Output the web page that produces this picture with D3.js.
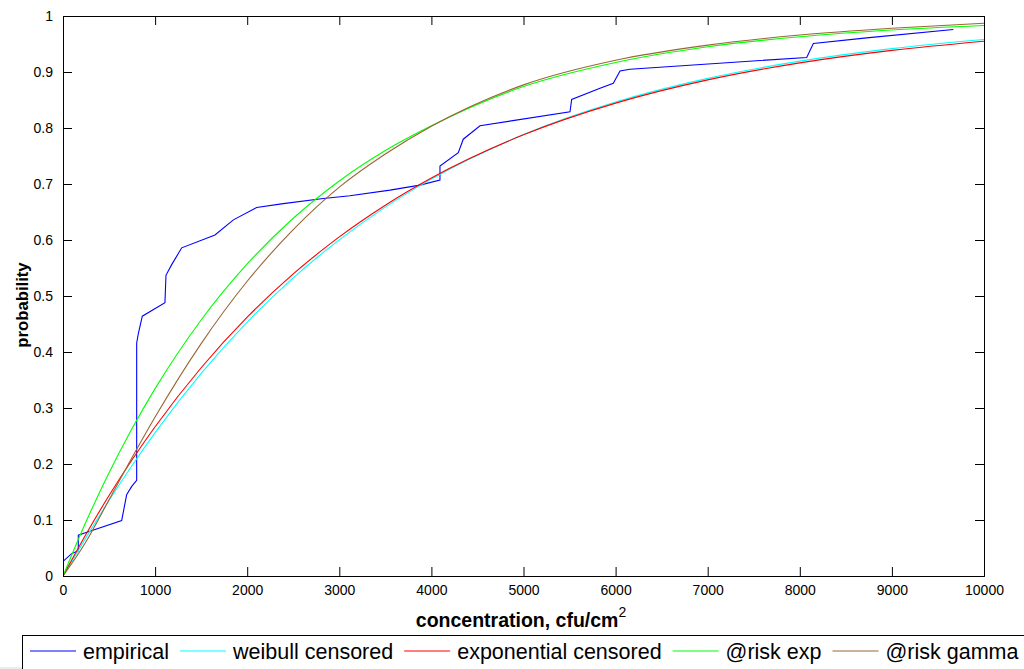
<!DOCTYPE html>
<html lang="en">
<head>
    <meta charset="UTF-8">
    <title>probability vs concentration</title>
    <script src="https://d3js.org/d3.v7.min.js"></script>
    <style>
        body { margin: 0; background: #fff; }
        svg { display: block; font-family: "Liberation Sans", Arial, sans-serif; }
        .tick text { font-size: 14px; fill: #000; }
    </style>
</head>
<body>
    <script>
        // fitted curves at these concentrations
        const curveX = [0, 250, 500, 750, 1000, 1500, 2000, 2500, 3000, 3500, 4000, 5000, 6000, 7000, 8000, 9000, 10000];
        const weibullCensored = [0, 0.0685, 0.1349, 0.1974, 0.2560, 0.3618, 0.4534, 0.5324, 0.6003, 0.6587, 0.7087, 0.7882, 0.8463, 0.8886, 0.9194, 0.9418, 0.9580];
        const exponentialCensored = [0, 0.0746, 0.1436, 0.2075, 0.2666, 0.3719, 0.4622, 0.5394, 0.6056, 0.6622, 0.7107, 0.7878, 0.8444, 0.8859, 0.9163, 0.9386, 0.9550];
        const riskExp = [0, 0.0968, 0.1843, 0.2633, 0.3346, 0.4572, 0.5572, 0.6388, 0.7054, 0.7597, 0.8039, 0.8740, 0.9170, 0.9450, 0.9630, 0.9750, 0.9830];
        const riskGamma = [0, 0.0612, 0.1361, 0.2115, 0.2838, 0.4150, 0.5263, 0.6184, 0.6943, 0.7535, 0.8030, 0.8770, 0.9210, 0.9480, 0.9660, 0.9780, 0.9870];

        // empirical cdf
        const empX = [0, 94, 166, 166, 275, 637, 691, 746, 800, 800, 818, 861, 1107, 1118, 1180, 1289, 1650, 1850, 2103, 2392, 2826, 3116, 3550, 3876, 4093, 4093, 4292, 4346, 4528, 5505, 5523, 5831, 5975, 6048, 6156, 8075, 8147, 8726, 9667];
        const empP = [0.026, 0.040, 0.045, 0.073, 0.079, 0.099, 0.145, 0.160, 0.171, 0.416, 0.433, 0.464, 0.488, 0.537, 0.556, 0.586, 0.609, 0.636, 0.658, 0.665, 0.674, 0.679, 0.689, 0.698, 0.707, 0.732, 0.756, 0.780, 0.804, 0.829, 0.851, 0.871, 0.880, 0.902, 0.905, 0.926, 0.951, 0.961, 0.976];

        const xTicks = [0, 1000, 2000, 3000, 4000, 5000, 6000, 7000, 8000, 9000, 10000];
        const yTicks = [0, 0.1, 0.2, 0.3, 0.4, 0.5, 0.6, 0.7, 0.8, 0.9, 1];
        const seriesNames = ["empirical", "weibull censored", "exponential censored", "@risk exp", "@risk gamma"];
        const seriesColors = ["#0000ff", "#00ffff", "#ff0000", "#00ff00", "#996633"];

        const svgWidth = 1024;
        const svgHeight = 669;
        const margins = {top: 16, right: 40, bottom: 93, left: 63};
        const chartWidth = svgWidth - margins.left - margins.right;
        const chartHeight = svgHeight - margins.top - margins.bottom;

        const root = d3.select("body").append("svg")
            .attr("width", svgWidth)
            .attr("height", svgHeight);

        root.append("rect")
            .attr("x", 0).attr("y", 667)
            .attr("width", svgWidth).attr("height", 2)
            .attr("fill", "#ececec");

        const svg = root.append("g")
            .attr("transform", `translate(${margins.left},${margins.top})`);

        const xScale = d3.scaleLinear().domain([0, 10000]).range([0, chartWidth]);
        const yScale = d3.scaleLinear().domain([0, 1]).range([chartHeight, 0]);

        svg.append("clipPath").attr("id", "plot-clip")
            .append("rect").attr("width", chartWidth).attr("height", chartHeight);

        // lines
        const line = d3.line()
            .x(d => xScale(d[0]))
            .y(d => yScale(d[1]));
        const smooth = d3.line()
            .x(d => xScale(d[0]))
            .y(d => yScale(d[1]))
            .curve(d3.curveMonotoneX);

        const lines = svg.append("g").attr("clip-path", "url(#plot-clip)");
        lines.append("path")
            .attr("d", line(d3.zip(empX, empP)))
            .attr("fill", "none").attr("stroke", seriesColors[0]).attr("stroke-width", 1.1);
        [weibullCensored, exponentialCensored, riskExp, riskGamma].forEach((vals, i) => {
            lines.append("path")
                .attr("d", smooth(d3.zip(curveX, vals)))
                .attr("fill", "none").attr("stroke", seriesColors[i + 1]).attr("stroke-width", 1.1);
        });

        // axes, ticks inward on all four sides
        const fmt = d => d3.format("~g")(d);
        svg.append("g")
            .attr("transform", `translate(0,${chartHeight})`)
            .call(d3.axisBottom(xScale).tickValues(xTicks).tickSize(-9).tickPadding(15).tickFormat(fmt))
            .call(g => g.selectAll("text").attr("dy", "0.3em"));
        svg.append("g")
            .call(d3.axisLeft(yScale).tickValues(yTicks).tickSize(-9).tickPadding(10).tickFormat(fmt));
        svg.append("g")
            .call(d3.axisTop(xScale).tickValues(xTicks).tickSize(-9).tickFormat(""));
        svg.append("g")
            .attr("transform", `translate(${chartWidth},0)`)
            .call(d3.axisRight(yScale).tickValues(yTicks).tickSize(-9).tickFormat(""));
        svg.selectAll(".domain").attr("stroke", "#000");
        svg.selectAll(".tick line").attr("stroke", "#000");

        // axis labels
        const xLabel = root.append("text")
            .attr("x", 521).attr("y", 627)
            .attr("text-anchor", "middle")
            .attr("font-size", 19.5).attr("font-weight", "bold")
            .text("concentration, cfu/cm");
        xLabel.append("tspan")
            .attr("dy", -10).attr("font-size", 14).attr("font-weight", "normal")
            .text("2");

        root.append("text")
            .attr("transform", "translate(28,305) rotate(-90)")
            .attr("text-anchor", "middle")
            .attr("font-size", 16.7).attr("font-weight", "bold")
            .text("probability");

        // legend
        const legend = root.append("g");
        legend.append("rect")
            .attr("x", 22.5).attr("y", 635.5)
            .attr("width", 1010).attr("height", 40)
            .attr("fill", "#fff").attr("stroke", "#000");
        let lx = 30;
        seriesNames.forEach((name, i) => {
            legend.append("line")
                .attr("x1", lx).attr("x2", lx + 46)
                .attr("y1", 651).attr("y2", 651)
                .attr("stroke", seriesColors[i]).attr("stroke-width", 1.1);
            const t = legend.append("text")
                .attr("x", lx + 53).attr("y", 659)
                .attr("font-size", 21.5)
                .text(name);
            lx += 53 + t.node().getComputedTextLength() + 11;
        });
    </script>
</body>
</html>
